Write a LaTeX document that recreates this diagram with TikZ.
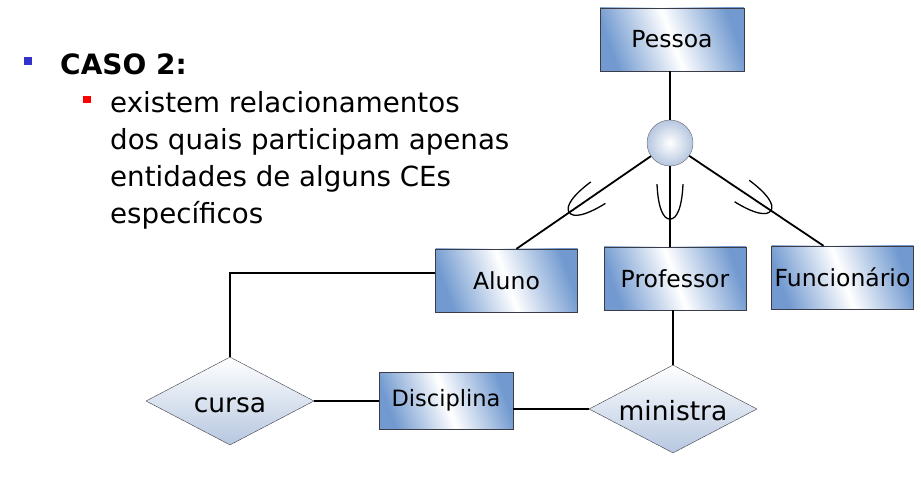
\documentclass[tikz,border=0pt]{standalone}
\usepackage{fontspec}
\setmainfont{DejaVu Sans}
\usepackage{tikz}
\usetikzlibrary{positioning, shapes.geometric, calc}
\definecolor{entblue}{RGB}{114,154,208}
\definecolor{relblue}{RGB}{182,199,224}
\definecolor{edgegray}{RGB}{60,60,70}
\definecolor{bulblue}{RGB}{51,51,204}
\tikzset{
  ent/.style={
    draw=edgegray, rectangle,
    minimum width=142pt, minimum height=63pt,
    left color=entblue, right color=entblue, middle color=white,
    shading angle=110,
    font=\fontsize{23.5}{23.5}\selectfont, inner sep=0pt
  },
  rel/.style={
    draw=edgegray, diamond, aspect=2,
    minimum width=168pt, minimum height=88pt,
    top color=white, bottom color=relblue,
    font=\fontsize{26.5}{26.5}\selectfont,
    text height=22pt, text depth=0pt, inner sep=0pt
  },
  gen/.style={
    draw=edgegray!80, circle, minimum size=46pt, inner sep=0pt,
    inner color=white, outer color=relblue
  },
  sq/.style={rectangle, minimum size=8pt, inner sep=0pt},
  txtline/.style={anchor=base west, inner sep=0pt, font=\fontsize{27.7}{27.7}\selectfont},
  lnk/.style={line width=1.8pt},
  subs/.style={line width=1.3pt},
}
\begin{document}
\begin{tikzpicture}[x=1pt, y=-1pt]
  \useasboundingbox (0,0) rectangle (921,481);
  % text on the left
  \node[sq, fill=bulblue] (bul1) at (27.5,61) {};
  \node[anchor=base west, inner sep=0pt, font=\bfseries\fontsize{28}{28}\selectfont] (caso) at (60,75) {CASO 2:};
  \node[sq, fill=red, minimum size=7.5pt] (bul2) at (87,99.5) {};
  \foreach \ln [count=\i from 0] in
    {existem relacionamentos, dos quais participam apenas, entidades de alguns CEs, específicos}{
    \node[txtline] (line\i) at (110, 113+37*\i) {\ln};
  }
  % entities
  \node[ent, minimum width=144pt] (pessoa) at (672,39.5) {Pessoa};
  \node[gen] (gen) at (670,143) {};
  \node[ent] (aluno) at (506.5,280.5) {Aluno};
  \node[ent] (prof) at (675,278.5) {Professor};
  \node[ent] (func) at (842.5,277.5) {Funcionário};
  \node[ent, minimum width=134pt, minimum height=57pt,
        font=\fontsize{22.5}{22.5}\selectfont] (disc) at (446,400.5) {Disciplina};
  % relationships
  \node[rel] (cursa) at (230,401) {cursa};
  \node[rel] (ministra) at (673,409) {ministra};
  % specialization
  \coordinate (aTop) at ([xshift=10pt]aluno.north);
  \coordinate (pTop) at ([xshift=-5pt]prof.north);
  \coordinate (fTop) at ([xshift=-19pt]func.north);
  \draw[lnk] (gen |- pessoa.south) -- (gen);
  \foreach \tgt/\ang in {aTop/-55.7, pTop/0, fTop/55.8}{
    \draw[lnk] (gen) -- (\tgt);
    \begin{scope}[shift={($(gen)!0.56!(\tgt)$)}, rotate=\ang]
      \draw[subs] (-13,-17) .. controls (-12,6) and (-7,18) .. (0,18)
        .. controls (7,18) and (12,6) .. (13,-17);
    \end{scope}
  }
  % relationship links
  \coordinate (alnk) at ([yshift=7.5pt]aluno.west);
  \draw[lnk] (alnk) -| (cursa.north);
  \draw[lnk] (cursa.east) -- (cursa.east -| disc.west);
  \draw[lnk] (disc.east |- ministra) -- (ministra.west);
  \draw[lnk] (ministra.north |- prof.south) -- (ministra.north);
\end{tikzpicture}
\end{document}
